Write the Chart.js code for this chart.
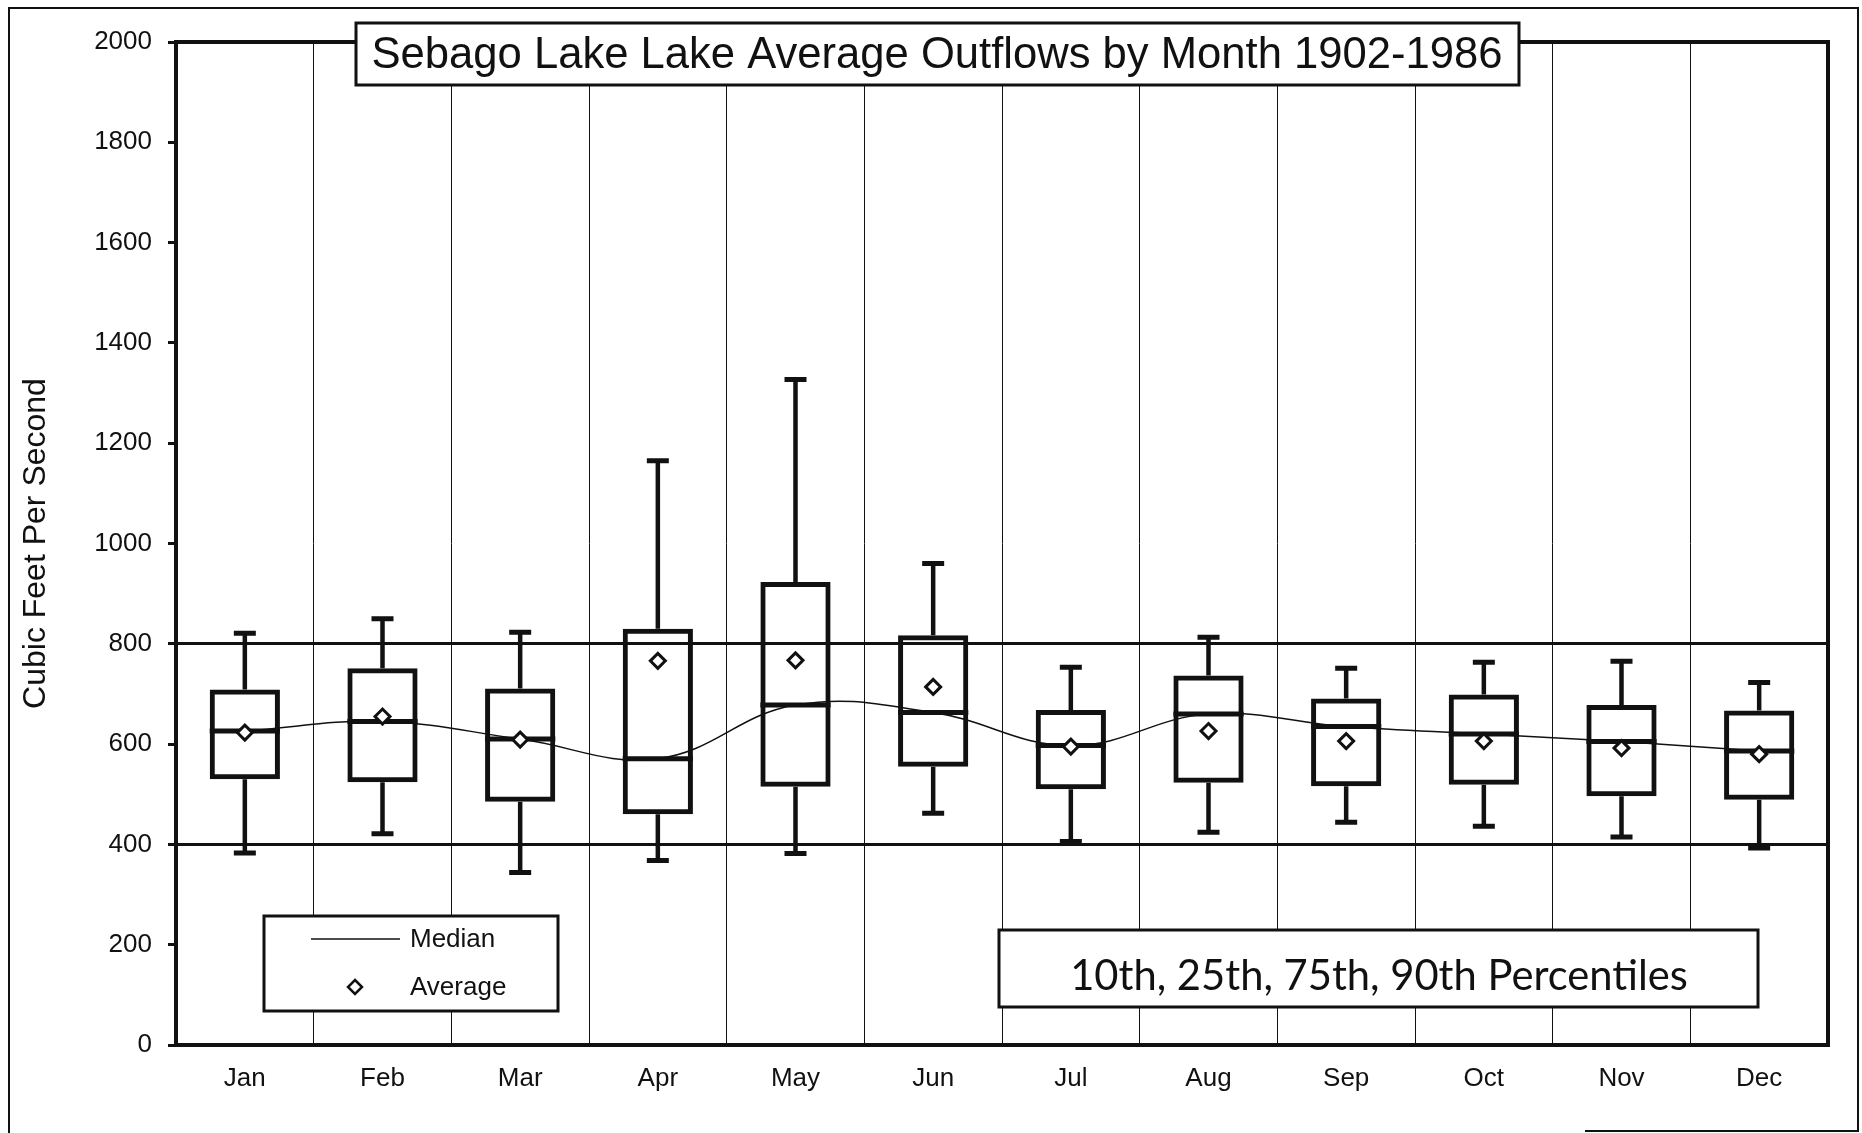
<!DOCTYPE html>
<html>
<head>
<meta charset="utf-8">
<script src="https://cdn.jsdelivr.net/npm/chart.js@4.4.1/dist/chart.umd.min.js"></script>
<style>
  body { margin: 0; background: #fff; }
  #wrap { width: 1862px; height: 1133px; }
</style>
</head>
<body>
<div id="wrap"><canvas id="chart" width="1862" height="1133"></canvas></div>
<script>
// data (cfs)
const months  = ['Jan', 'Feb', 'Mar', 'Apr', 'May', 'Jun', 'Jul', 'Aug', 'Sep', 'Oct', 'Nov', 'Dec'];
const p10     = [383, 421, 344, 368, 382, 462, 406, 424, 444, 436, 415, 393];
const p25     = [530, 524, 485, 460, 515, 555, 510, 523, 516, 519, 496, 489];
const median  = [626, 645, 610, 571, 678, 663, 597, 660, 635, 620, 605, 586];
const p75     = [709, 751, 711, 830, 923, 817, 668, 737, 691, 699, 678, 667];
const p90     = [821, 850, 823, 1165, 1327, 960, 753, 813, 751, 763, 765, 723];
const average = [623, 655, 609, 766, 767, 714, 595, 626, 606, 606, 592, 580];
const yMin = 0, yMax = 2000, yStep = 200;
const refLines = [400, 800];

const titleText = 'Sebago Lake Lake Average Outflows by Month 1902-1986';
const noteText = '10th, 25th, 75th, 90th Percentiles';
const ink = '#111';
const arial = "'Liberation Sans', Arial, sans-serif";

// shrink/grow a font so the text has the wanted width
function fitFont(ctx, text, family, weight, width) {
    ctx.font = weight + ' 40px ' + family;
    const size = 40 * width / ctx.measureText(text).width;
    return weight + ' ' + size.toFixed(1) + 'px ' + family;
}

function labelBox(ctx, x, y, w, h) {
    ctx.fillStyle = '#fff';
    ctx.fillRect(x, y, w, h);
    ctx.lineWidth = 3;
    ctx.strokeStyle = ink;
    ctx.strokeRect(x, y, w, h);
    ctx.fillStyle = ink;
}

// whiskers, caps and the thick median bar in each box
const boxParts = {
    id: 'boxParts',
    afterDatasetDraw(chart, args) {
        if (args.index !== 0) return;
        const ctx = chart.ctx;
        const y = chart.scales.y;
        ctx.save();
        ctx.strokeStyle = ink;
        args.meta.data.forEach((bar, i) => {
            const x = bar.x, half = bar.width / 2;
            ctx.lineWidth = 4.5;
            ctx.beginPath();
            ctx.moveTo(x, y.getPixelForValue(p75[i]));
            ctx.lineTo(x, y.getPixelForValue(p90[i]));
            ctx.moveTo(x, y.getPixelForValue(p25[i]));
            ctx.lineTo(x, y.getPixelForValue(p10[i]));
            ctx.stroke();

            ctx.lineWidth = 5;
            ctx.beginPath();
            ctx.moveTo(x - 11, y.getPixelForValue(p90[i]));
            ctx.lineTo(x + 11, y.getPixelForValue(p90[i]));
            ctx.moveTo(x - 11, y.getPixelForValue(p10[i]));
            ctx.lineTo(x + 11, y.getPixelForValue(p10[i]));
            ctx.stroke();

            ctx.lineWidth = 5;
            ctx.beginPath();
            ctx.moveTo(x - half, y.getPixelForValue(median[i]));
            ctx.lineTo(x + half, y.getPixelForValue(median[i]));
            ctx.stroke();
        });
        ctx.restore();
    }
};

// plot frame, title box, legend box, note box, page border
const decorations = {
    id: 'decorations',
    beforeDatasetsDraw(chart) {
        const ctx = chart.ctx;
        const a = chart.chartArea;
        ctx.save();
        ctx.lineWidth = 4;
        ctx.strokeStyle = ink;
        ctx.strokeRect(a.left, a.top, a.right - a.left, a.bottom - a.top);
        ctx.restore();
    },
    afterDraw(chart) {
        const ctx = chart.ctx;
        ctx.save();

        // page border
        ctx.strokeStyle = ink;
        ctx.lineWidth = 2;
        ctx.beginPath();
        ctx.moveTo(9, 1133); ctx.lineTo(9, 8); ctx.lineTo(1858, 8); ctx.lineTo(1858, 1131);
        ctx.lineTo(1585, 1131);
        ctx.stroke();

        // title
        labelBox(ctx, 356, 23, 1163, 62);
        ctx.textAlign = 'center';
        ctx.textBaseline = 'middle';
        ctx.font = fitFont(ctx, titleText, arial, 'normal', 1131);
        ctx.fillText(titleText, 937, 56);

        // legend
        labelBox(ctx, 264, 916, 294, 95);
        ctx.lineWidth = 1.5;
        ctx.beginPath();
        ctx.moveTo(311, 939); ctx.lineTo(400, 939);
        ctx.stroke();
        ctx.lineWidth = 2.5;
        ctx.beginPath();
        ctx.moveTo(355, 980); ctx.lineTo(362, 987); ctx.lineTo(355, 994); ctx.lineTo(348, 987);
        ctx.closePath();
        ctx.stroke();
        ctx.textAlign = 'left';
        ctx.font = '26px ' + arial;
        ctx.fillText('Median', 410, 940);
        ctx.fillText('Average', 410, 988);

        // percentile note
        labelBox(ctx, 999, 930, 759, 77);
        ctx.textAlign = 'center';
        ctx.font = fitFont(ctx, noteText, "'Lato', 'Open Sans', sans-serif", 'normal', 618);
        ctx.fillText(noteText, 1379, 977);
        ctx.restore();
    }
};

new Chart(document.getElementById('chart'), {
    data: {
        labels: months,
        datasets: [
            {
                type: 'bar',
                label: 'Box',
                data: months.map((m, i) => [p25[i], p75[i]]),
                backgroundColor: 'rgba(255,255,255,0)',
                borderColor: ink,
                borderWidth: 5,
                borderSkipped: false,
                barPercentage: 0.51,
                categoryPercentage: 1,
                order: 3
            },
            {
                type: 'line',
                label: 'Median',
                data: median,
                borderColor: ink,
                borderWidth: 1.5,
                tension: 0.4,
                pointRadius: 0,
                order: 2
            },
            {
                type: 'line',
                label: 'Average',
                data: average,
                showLine: false,
                pointStyle: 'rectRot',
                pointRadius: 7.5,
                pointBorderWidth: 3,
                pointBorderColor: ink,
                pointBackgroundColor: '#fff',
                order: 1
            }
        ]
    },
    options: {
        responsive: false,
        animation: false,
        layout: { padding: { left: 0, top: 42, right: 34, bottom: 0 } },
        plugins: {
            legend: { display: false },
            tooltip: { enabled: false },
            title: { display: false }
        },
        scales: {
            x: {
                offset: true,
                border: { display: false },
                grid: { offset: true, color: '#111', lineWidth: 1, drawTicks: false },
                ticks: { color: ink, padding: 18, font: { family: arial, size: 26 } },
                afterFit: (scale) => { scale.height = 88; }
            },
            y: {
                min: yMin,
                max: yMax,
                border: { display: false },
                grid: {
                    color: (c) => refLines.includes(c.tick.value) ? ink : 'rgba(0,0,0,0)',
                    lineWidth: 3,
                    tickColor: ink,
                    tickLength: 8,
                    tickWidth: 3
                },
                ticks: {
                    stepSize: yStep,
                    color: ink,
                    padding: 16,
                    font: { family: arial, size: 26 },
                    callback: (v) => String(v)
                },
                title: {
                    display: true,
                    text: 'Cubic Feet Per Second',
                    color: ink,
                    font: { family: arial, size: 32 },
                    padding: { top: 17, bottom: 0 }
                },
                afterFit: (scale) => { scale.width = 176; }
            }
        }
    },
    plugins: [boxParts, decorations]
});
</script>
</body>
</html>
